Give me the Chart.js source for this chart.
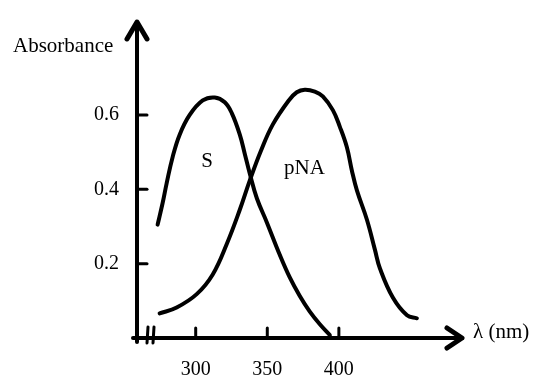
<!DOCTYPE html>
<html>
<head>
<meta charset="utf-8">
<script src="https://cdn.jsdelivr.net/npm/chart.js@4.4.1/dist/chart.umd.min.js"></script>
<style>
html,body{margin:0;padding:0;background:#fff}
</style>
</head>
<body>
<canvas id="absChart" width="542" height="381"></canvas>
<script>

// S curve (substrate)
const wlS  = [273.4, 276.9, 279.7, 283.9, 288.8, 295.8, 304.9, 313.3, 320.3, 325.2, 330.8, 334.3, 337.8, 342.7, 349.7, 358.7, 365.7, 372.7, 379.7, 386.7, 393.7]
const absS = [0.305, 0.363, 0.416, 0.487, 0.547, 0.600, 0.639, 0.647, 0.634, 0.605, 0.547, 0.495, 0.442, 0.376, 0.311, 0.224, 0.163, 0.113, 0.071, 0.037, 0.008]

// pNA curve
const wlP  = [274.8, 286.7, 300.7, 311.9, 321.7, 330.8, 337.8, 345.5, 353.8, 365.0, 370.6, 376.2, 383.2, 388.8, 395.8, 400.7, 405.6, 409.1, 412.6, 419.6, 425.2, 428.7, 437.8, 447.6, 454.5]
const absP = [0.066, 0.082, 0.118, 0.171, 0.253, 0.345, 0.424, 0.503, 0.574, 0.639, 0.661, 0.668, 0.663, 0.650, 0.613, 0.568, 0.513, 0.450, 0.397, 0.318, 0.237, 0.187, 0.108, 0.061, 0.053]

const xTicks = [300, 350, 400]
const yTicks = [0.2, 0.4, 0.6]

const curveLabels = [
  {text:"S", x:308, y:0.474},
  {text:"pNA", x:376, y:0.455}
]

const font = "Liberation Serif, Times New Roman, serif"

const toPts = (xs, ys) => xs.map((v, i) => ({x:v, y:ys[i]}))

/* axes drawn like the sketch: arrows, inward ticks, axis break */
const sketchAxes = {
  id:"sketchAxes",
  afterDatasetsDraw(chart){
    const {ctx, chartArea:a, scales:{x, y}} = chart
    ctx.save()
    ctx.strokeStyle = "#000"
    ctx.fillStyle = "#000"
    ctx.lineCap = "round"
    ctx.lineJoin = "round"

    ctx.lineWidth = 4
    ctx.beginPath()
    ctx.moveTo(a.left, a.bottom + 4)
    ctx.lineTo(a.left, a.top + 2)
    ctx.stroke()
    ctx.beginPath()
    ctx.moveTo(a.left - 4, a.bottom)
    ctx.lineTo(a.right - 2, a.bottom)
    ctx.stroke()

    // arrow heads
    ctx.lineWidth = 5
    ctx.beginPath()
    ctx.moveTo(a.left - 10, a.top + 17)
    ctx.lineTo(a.left, a.top)
    ctx.lineTo(a.left + 10, a.top + 17)
    ctx.stroke()
    ctx.beginPath()
    ctx.moveTo(a.right - 15, a.bottom - 10)
    ctx.lineTo(a.right, a.bottom)
    ctx.lineTo(a.right - 15, a.bottom + 10)
    ctx.stroke()

    // tick marks
    ctx.lineWidth = 3
    y.ticks.forEach(t => {
      const py = y.getPixelForValue(t.value)
      ctx.beginPath()
      ctx.moveTo(a.left, py)
      ctx.lineTo(a.left + 10, py)
      ctx.stroke()
    })
    x.ticks.forEach(t => {
      const px = x.getPixelForValue(t.value)
      ctx.beginPath()
      ctx.moveTo(px, a.bottom)
      ctx.lineTo(px, a.bottom - 10)
      ctx.stroke()
    })

    // axis break
    ;[11, 17].forEach(dx => {
      ctx.beginPath()
      ctx.moveTo(a.left + dx, a.bottom - 11)
      ctx.lineTo(a.left + dx - 1, a.bottom + 5)
      ctx.stroke()
    })

    // texts
    ctx.font = "21px " + font
    ctx.textBaseline = "alphabetic"
    ctx.textAlign = "left"
    ctx.fillText("Absorbance", a.left - 124, a.top + 30)
    ctx.fillText("λ (nm)", a.right + 11, a.bottom)

    ctx.textAlign = "center"
    ctx.textBaseline = "middle"
    curveLabels.forEach(l => {
      ctx.fillText(l.text, x.getPixelForValue(l.x), y.getPixelForValue(l.y))
    })
    ctx.restore()
  }
}

new Chart(document.getElementById("absChart"),{

type:"line",

data:{
  datasets:[
    {label:"S", data:toPts(wlS, absS)},
    {label:"pNA", data:toPts(wlP, absP)}
  ]
},

options:{
  responsive:false,
  animation:false,
  layout:{padding:{top:15, right:80, left:0, bottom:0}},
  elements:{
    line:{borderColor:"#000", borderWidth:4, tension:0.4, fill:false, borderCapStyle:"round"},
    point:{radius:0}
  },
  plugins:{
    legend:{display:false},
    tooltip:{enabled:false}
  },
  scales:{
    x:{
      type:"linear",
      min:259,
      max:486,
      afterBuildTicks:s => { s.ticks = xTicks.map(v => ({value:v})) },
      afterFit:s => { s.height = 43 },
      grid:{display:false},
      border:{display:false},
      ticks:{color:"#000", font:{family:font, size:20}, padding:12, maxRotation:0}
    },
    y:{
      min:0,
      max:0.85,
      afterBuildTicks:s => { s.ticks = yTicks.map(v => ({value:v})) },
      afterFit:s => { s.width = 137 },
      grid:{display:false},
      border:{display:false},
      ticks:{color:"#000", font:{family:font, size:20}, padding:10, callback:v => v.toFixed(1)}
    }
  }
},

plugins:[sketchAxes]

})
</script>
</body>
</html>
